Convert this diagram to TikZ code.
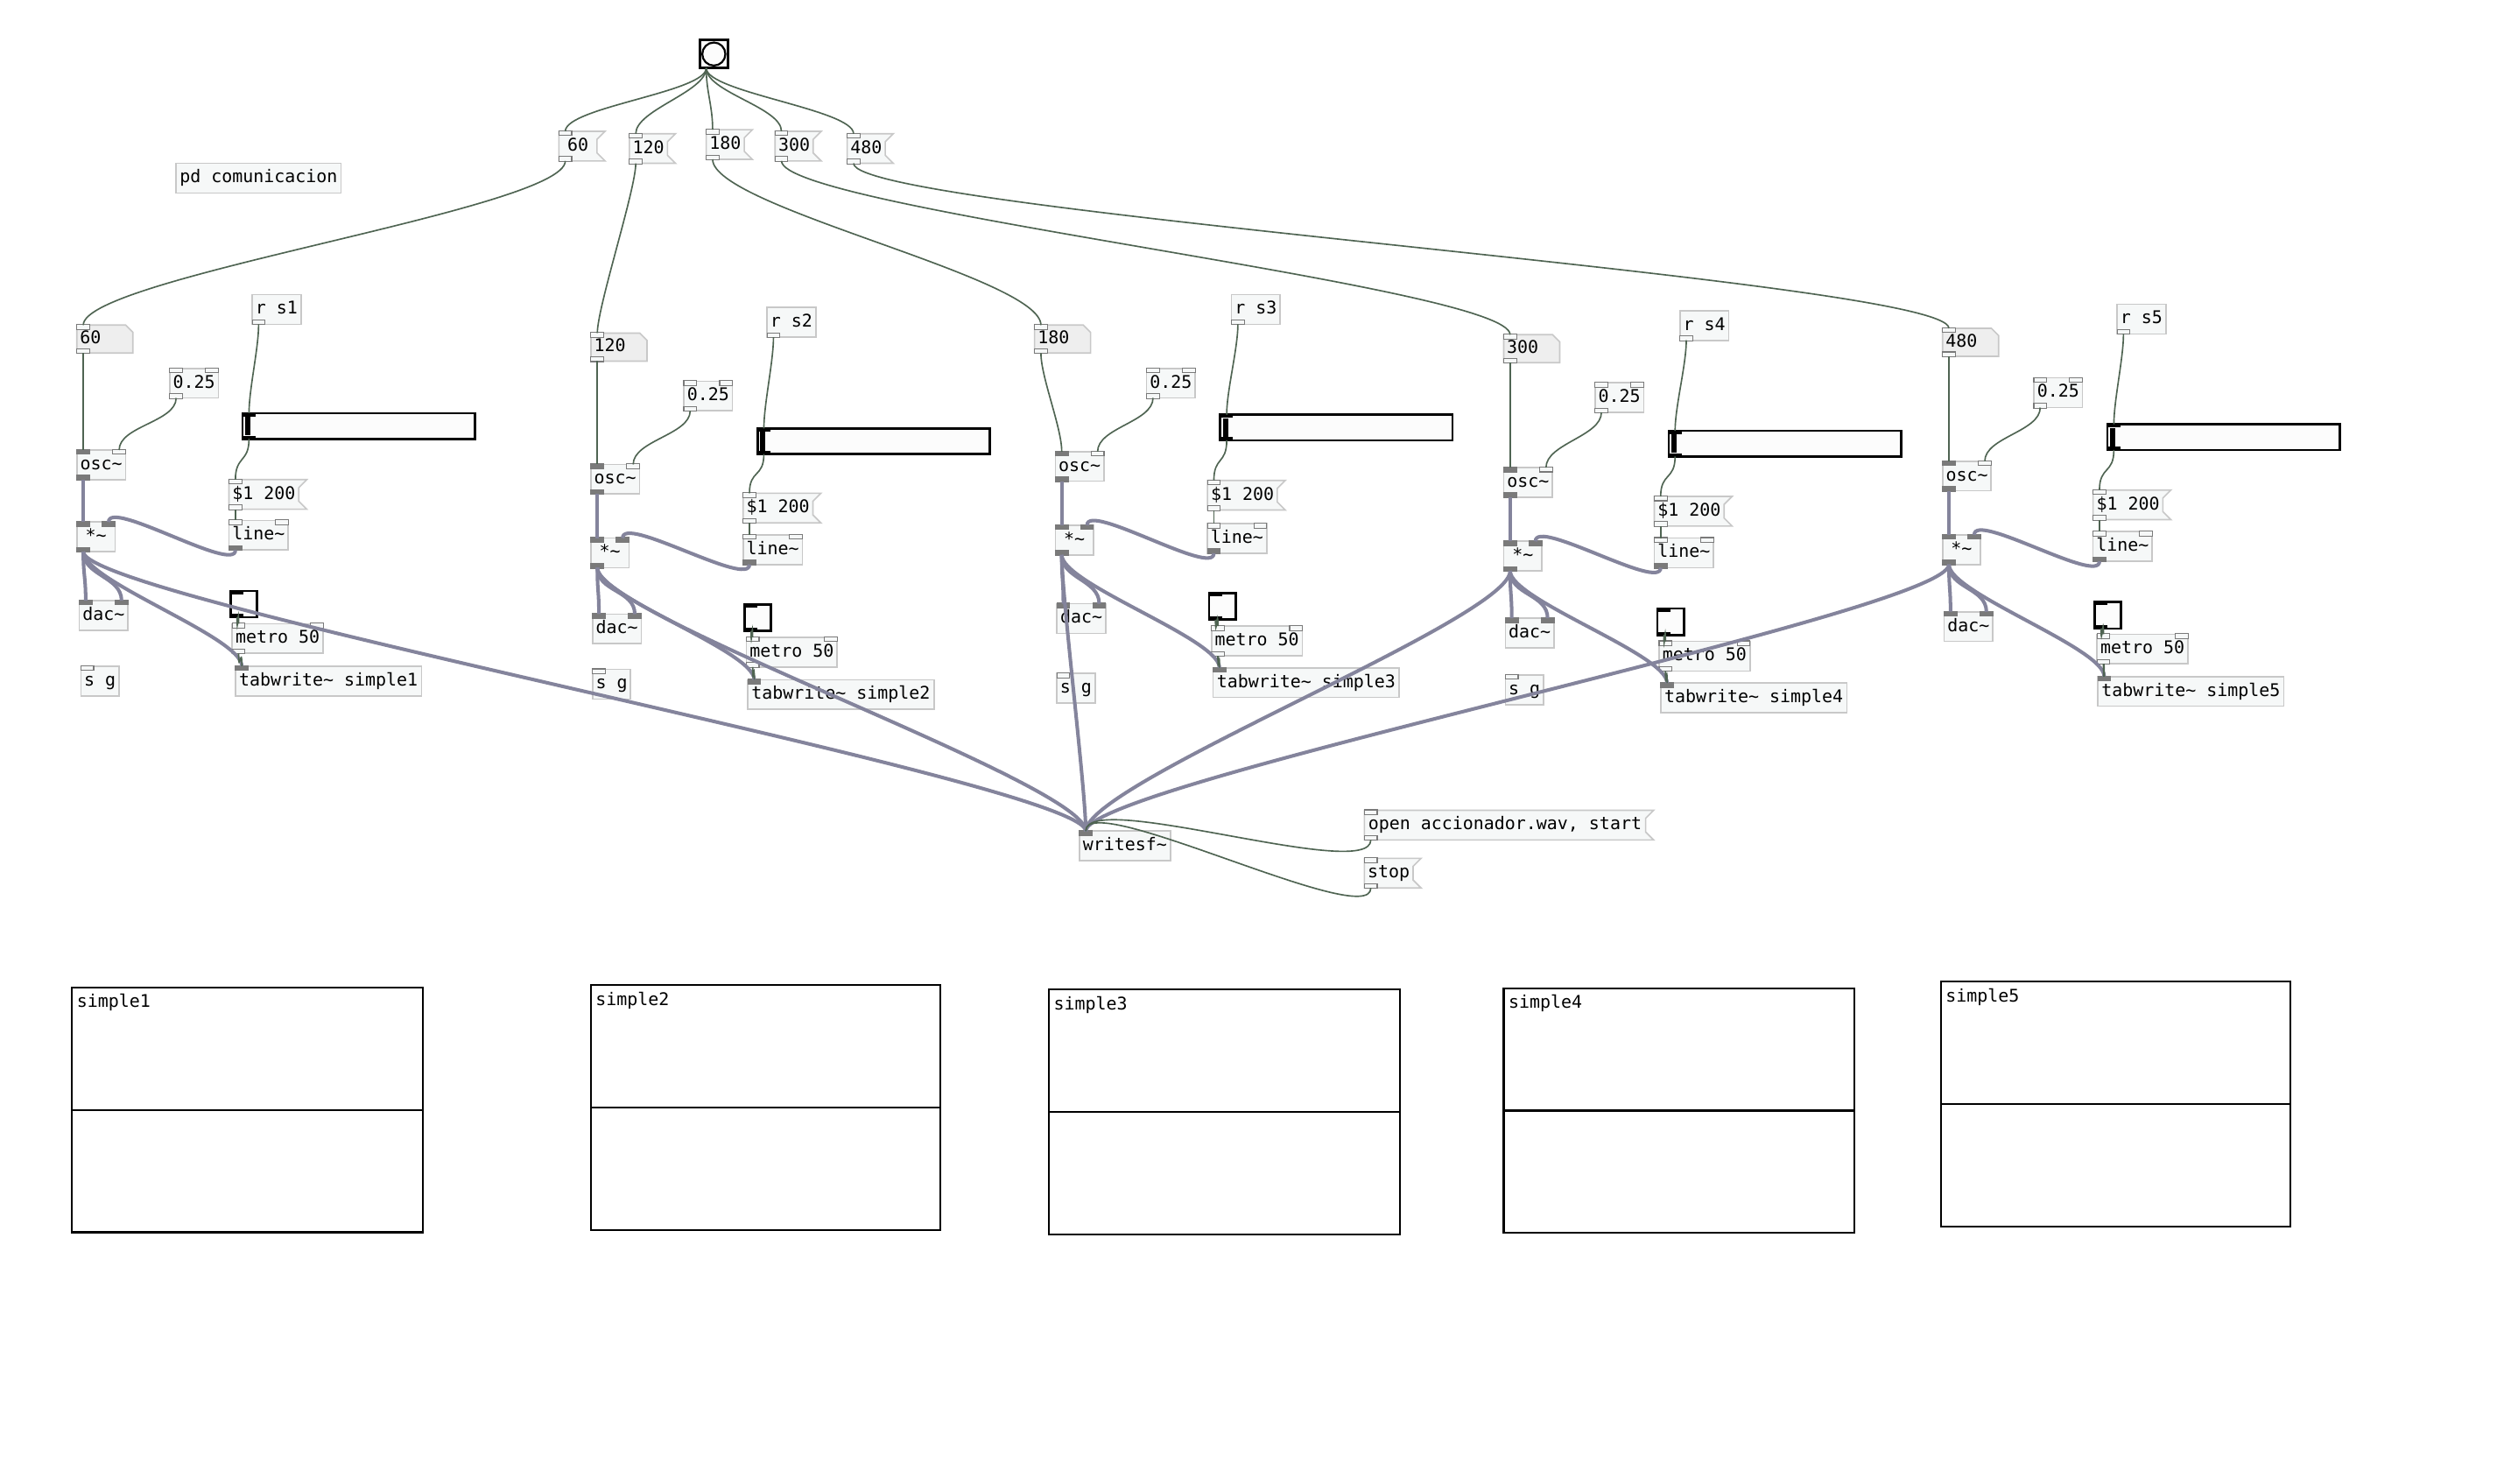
\documentclass[tikz,border=0pt]{standalone}
\usepackage{fontspec}
\newfontfamily\pdfont{DejaVu Sans Mono}
\usetikzlibrary{calc}
\definecolor{boxfill}{HTML}{F6F8F8}
\definecolor{numfill}{HTML}{EEEEEE}
\definecolor{boxline}{HTML}{C8C8C8}
\definecolor{ctlc}{HTML}{4F6452}
\definecolor{sigc}{HTML}{84849C}
\definecolor{iol}{HTML}{7A7A7A}
\definecolor{iemfill}{HTML}{FCFCFC}
\newcommand\tld{\char`\~}
\tikzset{
  pdlabel/.style={font=\pdfont\fontsize{10.9}{12}\selectfont, inner xsep=2pt, inner ysep=0pt, outer sep=0pt, text height=8.2pt, text depth=2.3pt, anchor=north west, align=left, text=black},
  objbox/.style={pdlabel, draw=boxline, fill=boxfill, line width=0.9pt},
  shapeline/.style={draw=boxline, line width=0.9pt},
  iobox/.style={draw=iol, line width=0.6pt},
  ctlcord/.style={draw=ctlc, line width=0.9pt},
  sigcord/.style={draw=sigc, line width=2.2pt},
  iem/.style={draw=black, line width=1.5pt, fill=iemfill, outer sep=0pt, inner sep=0pt, anchor=north west},
  arr/.style={draw=black, line width=1.15pt, fill=white, outer sep=0pt, inner sep=0pt, anchor=north west},
}
\newcommand\pdobj[5]{\node[objbox, minimum width=#4pt, minimum height=18.5pt] (#1) at (#2,#3) {#5};}
\newcommand\pdmsg[5]{%
  \draw[shapeline, fill=boxfill] (#2,#3) -- ({#2+#4+5},#3) -- ({#2+#4},{#3+5}) -- ({#2+#4},{#3+13.5}) -- ({#2+#4+5},{#3+18.5}) -- (#2,{#3+18.5}) -- cycle;
  \node[pdlabel, minimum width=#4pt, minimum height=18.5pt] (#1) at (#2,#3) {#5};}
\newcommand\pdnum[5]{%
  \draw[shapeline, fill=numfill] (#2,#3) -- ({#2+#4-4.5},#3) -- ({#2+#4},{#3+4.5}) -- ({#2+#4},{#3+17.5}) -- (#2,{#3+17.5}) -- cycle;
  \pgfmathsetmacro\pdtw{#4-4}%
  \node[pdlabel, text width=\pdtw pt, minimum height=17.5pt] (#1) at (#2,#3) {#5};}
\newcommand\ioset[1]{\if#1s\def\iofill{iol}\else\def\iofill{boxfill}\fi}
\newcommand\inL[2]{\ioset{#2}\draw[iobox, fill=\iofill] ([yshift=0.3pt]#1.north west) rectangle ([xshift=8pt,yshift=-2.7pt]#1.north west);\coordinate (#1-iL) at ([xshift=4pt]#1.north west);}
\newcommand\inR[2]{\ioset{#2}\draw[iobox, fill=\iofill] ([xshift=-8pt,yshift=0.3pt]#1.north east) rectangle ([yshift=-2.7pt]#1.north east);\coordinate (#1-iR) at ([xshift=-4pt]#1.north east);}
\newcommand\outL[2]{\ioset{#2}\draw[iobox, fill=\iofill] ([yshift=2.7pt]#1.south west) rectangle ([xshift=8pt,yshift=-0.3pt]#1.south west);\coordinate (#1-oL) at ([xshift=4pt]#1.south west);}
\newcommand\pdslider[3]{%
  \node[iem, minimum width=145pt, minimum height=16pt] (#1) at (#2,#3) {};
  \fill[black] ([xshift=1.8pt,yshift=-2.2pt]#1.north west) rectangle ([xshift=5pt,yshift=2.2pt]#1.south west);
  \fill[black] (#1.north west) rectangle ([xshift=8pt,yshift=-2pt]#1.north west);
  \fill[black] (#1.south west) rectangle ([xshift=8pt,yshift=2pt]#1.south west);
  \coordinate (#1-iL) at ([xshift=4pt]#1.north west);
  \coordinate (#1-oL) at ([xshift=4pt]#1.south west);}
\newcommand\pdtoggle[3]{%
  \node[iem, minimum width=16.5pt, minimum height=16.5pt] (#1) at (#2,#3) {};
  \fill[black] (#1.north west) rectangle ([xshift=8pt,yshift=-2pt]#1.north west);
  \fill[black] (#1.south west) rectangle ([xshift=8pt,yshift=2pt]#1.south west);
  \coordinate (#1-oL) at ([xshift=4pt]#1.south west);}
\newcommand\pdarray[5]{%
  \node[arr, minimum width=#4pt, minimum height=153pt] (#1) at (#2,#3) {};
  \draw[black, line width=1.15pt] (#1.west) -- (#1.east);
  \node[pdlabel] (#1-lab) at ([xshift=1pt,yshift=-4.5pt]#1.north west) {#5};}
\newcommand\cord[3]{%
  \draw[#1] let \p1=(#2), \p2=(#3), \n1={min(max(15,0.15*veclen(\x2-\x1,\y2-\y1)),30)} in
    (\p1) .. controls (\x1,{\y1-\n1*1pt}) and (\x2,{\y2+\n1*1pt}) .. (\p2);}
% iolets of one column of the patch
\newcommand\pdcolumn[1]{%
  \inL{num#1}{c}\outL{num#1}{c}
  \outL{rs#1}{c}
  \inL{cf#1}{c}\inR{cf#1}{c}\outL{cf#1}{c}
  \inL{osc#1}{s}\inR{osc#1}{c}\outL{osc#1}{s}
  \inL{ms#1}{c}\outL{ms#1}{c}
  \inL{mul#1}{s}\inR{mul#1}{s}\outL{mul#1}{s}
  \inL{line#1}{c}\inR{line#1}{c}\outL{line#1}{s}
  \inL{dac#1}{s}\inR{dac#1}{s}
  \inL{met#1}{c}\inR{met#1}{c}\outL{met#1}{c}
  \inL{tab#1}{s}}
\begin{document}
\begin{tikzpicture}[x=1pt,y=-1pt]
\fill[white] (0,0) rectangle (1568,926.2);
\useasboundingbox (0,0) rectangle (1568,926.2);

% arrays
\pdarray{arr1}{45}{616.5}{219}{simple1}
\pdarray{arr2}{369}{615}{218}{simple2}
\pdarray{arr3}{655}{618}{219}{simple3}
\pdarray{arr4}{939}{617}{219}{simple4}
\pdarray{arr5}{1212}{613}{218}{simple5}

% top
\node[iem, minimum width=17.5pt, minimum height=17.5pt] (bang) at (437,25) {};
\draw[black, line width=1.2pt] (bang.center) circle (7.2pt);
\coordinate (bang-oL) at ([xshift=4pt]bang.south west);
\pdmsg{m1}{349}{82}{23.8}{60}\inL{m1}{c}\outL{m1}{c}
\pdmsg{m2}{393}{83.5}{23.8}{120}\inL{m2}{c}\outL{m2}{c}
\pdmsg{m3}{441}{81}{23.8}{180}\inL{m3}{c}\outL{m3}{c}
\pdmsg{m4}{484}{82}{23.8}{300}\inL{m4}{c}\outL{m4}{c}
\pdmsg{m5}{529}{83.5}{23.8}{480}\inL{m5}{c}\outL{m5}{c}
\pdobj{pdc}{110}{102}{103}{pd comunicacion}

% column 1
\pdnum{num1}{48}{203}{35}{60}
\pdobj{rs1}{157.5}{184}{30.4}{r s1}
\pdobj{cf1}{106}{230}{30.4}{0.25}
\pdslider{sl1}{151.5}{258}
\pdobj{osc1}{48}{281}{30.4}{osc\tld}
\pdmsg{ms1}{143}{299.5}{43.6}{\$1 200}
\pdobj{mul1}{48}{326}{23.8}{*\tld}
\pdobj{line1}{143}{325}{37}{line\tld}
\pdobj{dac1}{49.5}{375}{30.4}{dac\tld}
\pdtoggle{tg1}{144}{369}
\pdobj{met1}{145}{389.5}{56.8}{metro 50}
\pdobj{sg1}{50.5}{416}{23.8}{s g}\inL{sg1}{c}
\pdobj{tab1}{147}{416}{116.2}{tabwrite\tld{} simple1}
\pdcolumn{1}

% column 2
\pdnum{num2}{369}{208}{35}{120}
\pdobj{rs2}{479}{192}{30.4}{r s2}
\pdobj{cf2}{427}{238}{30.4}{0.25}
\pdslider{sl2}{473}{267.5}
\pdobj{osc2}{369}{290}{30.4}{osc\tld}
\pdmsg{ms2}{464}{308}{43.6}{\$1 200}
\pdobj{mul2}{369}{336}{23.8}{*\tld}
\pdobj{line2}{464}{334}{37}{line\tld}
\pdobj{dac2}{370}{383.5}{30.4}{dac\tld}
\pdtoggle{tg2}{465}{377.5}
\pdobj{met2}{466}{398}{56.8}{metro 50}
\pdobj{sg2}{370}{418}{23.8}{s g}\inL{sg2}{c}
\pdobj{tab2}{467}{424.5}{116.2}{tabwrite\tld{} simple2}
\pdcolumn{2}

% column 3
\pdnum{num3}{646}{203}{35}{180}
\pdobj{rs3}{769}{184}{30.4}{r s3}
\pdobj{cf3}{716}{230}{30.4}{0.25}
\pdslider{sl3}{762}{259}
\pdobj{osc3}{659}{282}{30.4}{osc\tld}
\pdmsg{ms3}{754}{300}{43.6}{\$1 200}
\pdobj{mul3}{659}{328}{23.8}{*\tld}
\pdobj{line3}{754}{327}{37}{line\tld}
\pdobj{dac3}{660}{377}{30.4}{dac\tld}
\pdtoggle{tg3}{755}{370.5}
\pdobj{met3}{756.5}{391}{56.8}{metro 50}
\pdobj{sg3}{660}{420.5}{23.8}{s g}\inL{sg3}{c}
\pdobj{tab3}{757.5}{417}{116.2}{tabwrite\tld{} simple3}
\pdcolumn{3}

% column 4
\pdnum{num4}{939}{209}{35}{300}
\pdobj{rs4}{1049}{194}{30.4}{r s4}
\pdobj{cf4}{996}{239}{30.4}{0.25}
\pdslider{sl4}{1042}{269}
\pdobj{osc4}{939}{292}{30.4}{osc\tld}
\pdmsg{ms4}{1033}{310}{43.6}{\$1 200}
\pdobj{mul4}{939}{338}{23.8}{*\tld}
\pdobj{line4}{1033}{336}{37}{line\tld}
\pdobj{dac4}{940}{386}{30.4}{dac\tld}
\pdtoggle{tg4}{1035}{380}
\pdobj{met4}{1036}{400.5}{56.8}{metro 50}
\pdobj{sg4}{940}{421.5}{23.8}{s g}\inL{sg4}{c}
\pdobj{tab4}{1037}{426.5}{116.2}{tabwrite\tld{} simple4}
\pdcolumn{4}

% column 5
\pdnum{num5}{1213}{205}{35}{480}
\pdobj{rs5}{1322}{190}{30.4}{r s5}
\pdobj{cf5}{1270}{236}{30.4}{0.25}
\pdslider{sl5}{1316}{265}
\pdobj{osc5}{1213}{288}{30.4}{osc\tld}
\pdmsg{ms5}{1307}{306}{43.6}{\$1 200}
\pdobj{mul5}{1213}{334}{23.8}{*\tld}
\pdobj{line5}{1307}{332}{37}{line\tld}
\pdobj{dac5}{1214}{382}{30.4}{dac\tld}
\pdtoggle{tg5}{1308}{376}
\pdobj{met5}{1309.5}{396}{56.8}{metro 50}
\pdobj{tab5}{1310}{422.5}{116.2}{tabwrite\tld{} simple5}
\pdcolumn{5}

% writesf section
\pdobj{wsf}{674}{519}{56.8}{writesf\tld}\inL{wsf}{s}
\pdmsg{mopen}{852}{506}{175.6}{open accionador.wav, start}\inL{mopen}{c}\outL{mopen}{c}
\pdmsg{mstop}{852}{536}{30.4}{stop}\inL{mstop}{c}\outL{mstop}{c}

% cords
\foreach \k in {1,...,5}{
  \cord{ctlcord}{bang-oL}{m\k-iL}
  \cord{ctlcord}{m\k-oL}{num\k-iL}
  \cord{ctlcord}{num\k-oL}{osc\k-iL}
  \cord{ctlcord}{cf\k-oL}{osc\k-iR}
  \cord{sigcord}{osc\k-oL}{mul\k-iL}
  \cord{ctlcord}{rs\k-oL}{sl\k-iL}
  \cord{ctlcord}{sl\k-oL}{ms\k-iL}
  \cord{ctlcord}{ms\k-oL}{line\k-iL}
  \cord{sigcord}{line\k-oL}{mul\k-iR}
  \cord{sigcord}{mul\k-oL}{dac\k-iL}
  \cord{sigcord}{mul\k-oL}{dac\k-iR}
  \cord{sigcord}{mul\k-oL}{tab\k-iL}
  \cord{sigcord}{mul\k-oL}{wsf-iL}
  \cord{ctlcord}{tg\k-oL}{met\k-iL}
  \cord{ctlcord}{met\k-oL}{tab\k-iL}
}
\cord{ctlcord}{mopen-oL}{wsf-iL}
\cord{ctlcord}{mstop-oL}{wsf-iL}
\end{tikzpicture}
\end{document}
